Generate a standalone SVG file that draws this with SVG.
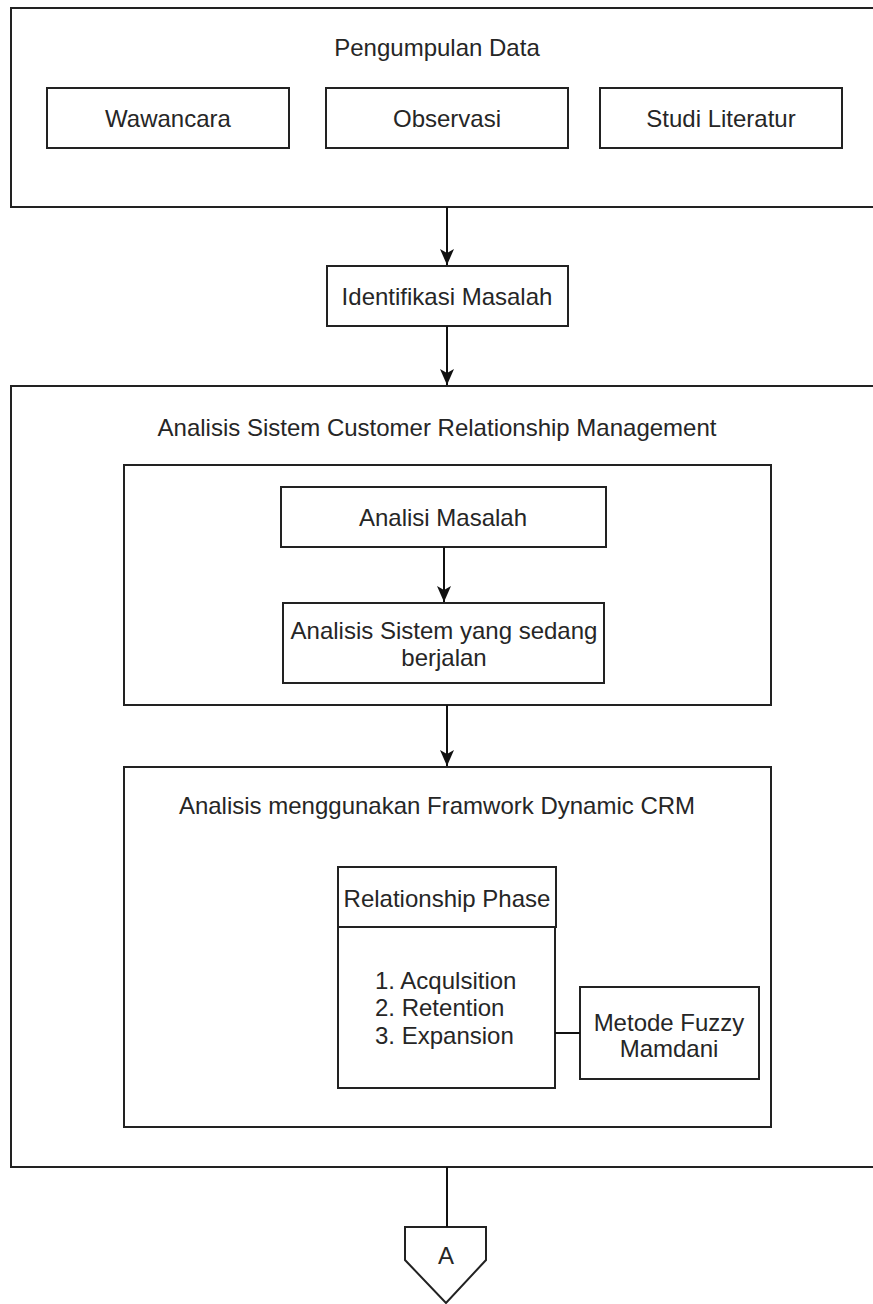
<svg xmlns="http://www.w3.org/2000/svg" width="873" height="1304" viewBox="0 0 873 1304">
<style>
.box{fill:#fff;stroke:#222;stroke-width:2}
.t{font-family:"Liberation Sans",Arial,sans-serif;font-size:24px;fill:#262626;text-anchor:middle}
.tl{font-family:"Liberation Sans",Arial,sans-serif;font-size:24px;fill:#262626;text-anchor:start}
.c{fill:none;stroke:#111;stroke-width:2}
</style>
<defs>
<marker id="arr" markerUnits="userSpaceOnUse" markerWidth="18" markerHeight="16" refX="16" refY="7" orient="auto" viewBox="0 0 18 14">
<path d="M0,0 L16,7 L0,14 L4,7 z" fill="#111"/>
</marker>
</defs>
<rect width="873" height="1304" fill="#fff"/>
<g id="pengumpulan">
<rect class="box" x="11" y="8" width="880" height="199"/>
<text class="t" x="437" y="56">Pengumpulan Data</text>
</g>
<g id="wawancara">
<rect class="box" x="47" y="88" width="242" height="60"/>
<text class="t" x="168" y="127">Wawancara</text>
</g>
<g id="observasi">
<rect class="box" x="326" y="88" width="242" height="60"/>
<text class="t" x="447" y="127">Observasi</text>
</g>
<g id="studi">
<rect class="box" x="600" y="88" width="242" height="60"/>
<text class="t" x="721" y="127">Studi Literatur</text>
</g>
<g id="identifikasi">
<rect class="box" x="327" y="266" width="241" height="60"/>
<text class="t" x="447" y="305">Identifikasi Masalah</text>
</g>
<g id="analisis-crm">
<rect class="box" x="11" y="386" width="880" height="781"/>
<text class="t" x="437" y="436">Analisis Sistem Customer Relationship Management</text>
</g>
<g id="inner1">
<rect class="box" x="124" y="465" width="647" height="240"/>
</g>
<g id="analisi-masalah">
<rect class="box" x="281" y="487" width="325" height="60"/>
<text class="t" x="443" y="526">Analisi Masalah</text>
</g>
<g id="analisis-sistem">
<rect class="box" x="283" y="603" width="321" height="80"/>
<text class="t" x="444" y="639">Analisis Sistem yang sedang</text>
<text class="t" x="444" y="666">berjalan</text>
</g>
<g id="inner2">
<rect class="box" x="124" y="767" width="647" height="360"/>
<text class="t" x="437" y="814">Analisis menggunakan Framwork Dynamic CRM</text>
</g>
<g id="relationship-phase">
<rect class="box" x="338" y="867" width="218" height="60"/>
<text class="t" x="447" y="907">Relationship Phase</text>
</g>
<g id="phase-list">
<rect class="box" x="338" y="927" width="217" height="161"/>
<text class="tl" x="375" y="989">1. Acqulsition</text>
<text class="tl" x="375" y="1016">2. Retention</text>
<text class="tl" x="375" y="1044">3. Expansion</text>
</g>
<g id="fuzzy">
<rect class="box" x="580" y="987" width="179" height="92"/>
<text class="t" x="669" y="1031">Metode Fuzzy</text>
<text class="t" x="669" y="1057">Mamdani</text>
</g>
<g id="offpage-a">
<polygon class="box" points="405,1227 486,1227 486,1260 446,1303 405,1260"/>
<text class="t" x="446" y="1264">A</text>
</g>
<g id="connectors">
<line class="c" x1="447" y1="207" x2="447" y2="265" marker-end="url(#arr)"/>
<line class="c" x1="447" y1="326" x2="447" y2="385" marker-end="url(#arr)"/>
<line class="c" x1="444" y1="547" x2="444" y2="602" marker-end="url(#arr)"/>
<line class="c" x1="447" y1="705" x2="447" y2="766" marker-end="url(#arr)"/>
<line class="c" x1="447" y1="1167" x2="447" y2="1227"/>
<line class="c" x1="555" y1="1033" x2="580" y2="1033"/>
</g>
</svg>
